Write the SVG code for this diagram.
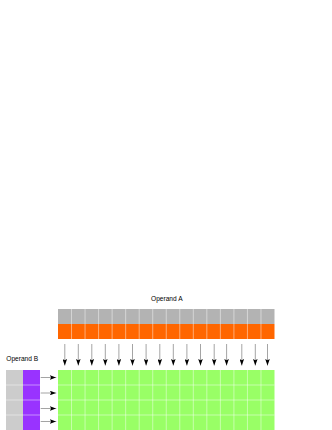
<svg xmlns="http://www.w3.org/2000/svg" width="332" height="430" viewBox="0 0 332 430">
<style>
.lbl{font-family:"Liberation Sans",Arial,sans-serif;font-size:6.6px;fill:#000}
.grid{stroke:#ffffff;stroke-opacity:0.45;stroke-width:1;fill:none}
.conn{stroke:#666;stroke-width:0.6;fill:none}
</style>
<defs>
<marker id="ah" viewBox="0 0 10 10" refX="10" refY="5" markerWidth="6.5" markerHeight="4.6" markerUnits="userSpaceOnUse" orient="auto" preserveAspectRatio="none">
<path d="M0,0 L10,5 L0,10 L2,5 Z" fill="#000"/>
</marker>
</defs>
<rect width="332" height="430" fill="#fff"/>

<g id="operandA">
<text class="lbl" x="166.8" y="300.7" text-anchor="middle">Operand A</text>
<rect x="58" y="309" width="216.5" height="15" fill="#b3b3b3"/>
<rect x="58" y="324" width="216.5" height="15" fill="#ff6600"/>
<path class="grid" d="M71.53,309V339M85.06,309V339M98.59,309V339M112.12,309V339M125.66,309V339M139.19,309V339M152.72,309V339M166.25,309V339M179.78,309V339M193.31,309V339M206.84,309V339M220.38,309V339M233.91,309V339M247.44,309V339M260.97,309V339"/>
</g>

<g id="operandB">
<text class="lbl" x="22.2" y="360.7" text-anchor="middle">Operand B</text>
<rect x="6" y="370" width="17" height="60" fill="#cccccc"/>
<rect x="23" y="370" width="17" height="60" fill="#9933ff"/>
<path class="grid" d="M6,385H40M6,400H40M6,415H40"/>
</g>

<g id="result">
<rect x="58" y="370" width="216.5" height="60" fill="#99ff66"/>
<path class="grid" d="M71.53,370V430M85.06,370V430M98.59,370V430M112.12,370V430M125.66,370V430M139.19,370V430M152.72,370V430M166.25,370V430M179.78,370V430M193.31,370V430M206.84,370V430M220.38,370V430M233.91,370V430M247.44,370V430M260.97,370V430M58,385H274.5M58,400H274.5M58,415H274.5"/>
</g>

<g id="connectors">
<path class="conn" marker-end="url(#ah)" d="M64.8,344V365.5"/>
<path class="conn" marker-end="url(#ah)" d="M78.3,344V365.5"/>
<path class="conn" marker-end="url(#ah)" d="M91.8,344V365.5"/>
<path class="conn" marker-end="url(#ah)" d="M105.3,344V365.5"/>
<path class="conn" marker-end="url(#ah)" d="M118.9,344V365.5"/>
<path class="conn" marker-end="url(#ah)" d="M132.5,344V365.5"/>
<path class="conn" marker-end="url(#ah)" d="M146.1,344V365.5"/>
<path class="conn" marker-end="url(#ah)" d="M159.8,344V365.5"/>
<path class="conn" marker-end="url(#ah)" d="M173.3,344V365.5"/>
<path class="conn" marker-end="url(#ah)" d="M186.9,344V365.5"/>
<path class="conn" marker-end="url(#ah)" d="M200.5,344V365.5"/>
<path class="conn" marker-end="url(#ah)" d="M214.2,344V365.5"/>
<path class="conn" marker-end="url(#ah)" d="M226.6,344V365.5"/>
<path class="conn" marker-end="url(#ah)" d="M241.8,344V365.5"/>
<path class="conn" marker-end="url(#ah)" d="M255.3,344V365.5"/>
<path class="conn" marker-end="url(#ah)" d="M267.5,344V365.5"/>
<path class="conn" marker-end="url(#ah)" d="M40.7,377.5H56.3"/>
<path class="conn" marker-end="url(#ah)" d="M40.7,393H56.3"/>
<path class="conn" marker-end="url(#ah)" d="M40.7,408.5H56.3"/>
<path class="conn" marker-end="url(#ah)" d="M40.7,421.5H56.3"/>
</g>
</svg>
